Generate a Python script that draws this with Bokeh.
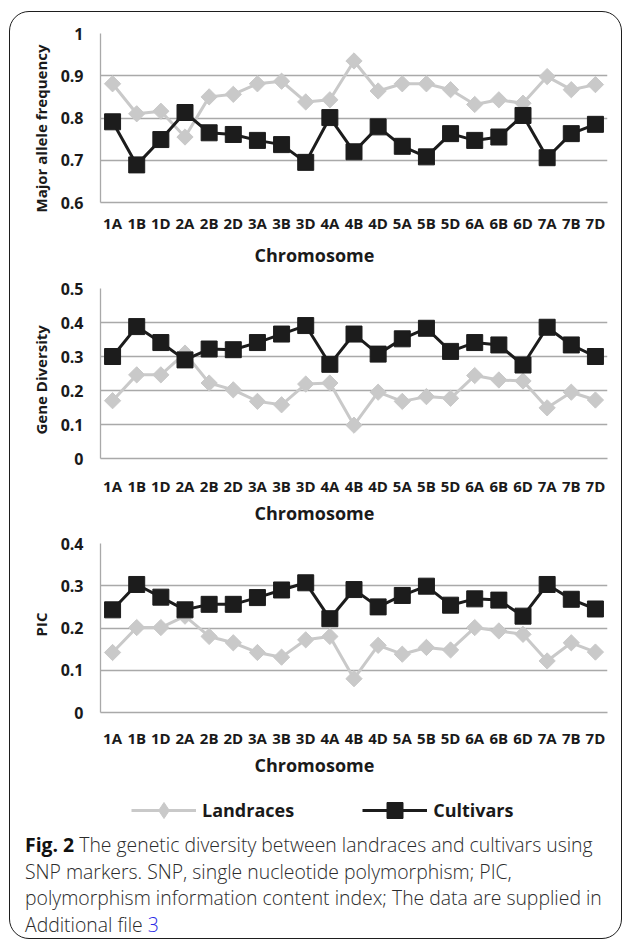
import math
from bokeh.plotting import figure
from bokeh.models import (FactorRange, Range1d, FixedTicker, NumeralTickFormatter,
                          Title, Legend, LegendItem, Div)
from bokeh.layouts import column
from bokeh.embed import file_html
from bokeh.resources import INLINE

chromosomes = ["1A", "1B", "1D", "2A", "2B", "2D", "3A", "3B", "3D", "4A", "4B",
               "4D", "5A", "5B", "5D", "6A", "6B", "6D", "7A", "7B", "7D"]

maf_landraces = [0.881, 0.810, 0.816, 0.755, 0.850, 0.856, 0.881, 0.887, 0.838, 0.843, 0.935,
                 0.864, 0.881, 0.881, 0.867, 0.832, 0.843, 0.835, 0.898, 0.867, 0.879]
maf_cultivars = [0.791, 0.689, 0.749, 0.813, 0.765, 0.761, 0.747, 0.737, 0.695, 0.801, 0.720,
                 0.779, 0.733, 0.708, 0.763, 0.747, 0.755, 0.806, 0.706, 0.763, 0.785]

gd_landraces = [0.170, 0.246, 0.246, 0.310, 0.222, 0.202, 0.168, 0.158, 0.219, 0.222, 0.098,
                0.195, 0.168, 0.182, 0.177, 0.244, 0.231, 0.228, 0.149, 0.195, 0.172]
gd_cultivars = [0.300, 0.388, 0.341, 0.290, 0.322, 0.320, 0.341, 0.366, 0.391, 0.277, 0.366,
                0.307, 0.352, 0.383, 0.315, 0.341, 0.334, 0.275, 0.386, 0.334, 0.300]

pic_landraces = [0.142, 0.201, 0.201, 0.228, 0.180, 0.165, 0.142, 0.131, 0.172, 0.180, 0.080,
                 0.159, 0.138, 0.154, 0.148, 0.201, 0.193, 0.185, 0.122, 0.165, 0.143]
pic_cultivars = [0.243, 0.303, 0.273, 0.243, 0.256, 0.256, 0.272, 0.290, 0.307, 0.222, 0.291,
                 0.250, 0.277, 0.299, 0.254, 0.269, 0.266, 0.228, 0.303, 0.268, 0.245]

maf_ticks = [0.6, 0.7, 0.8, 0.9, 1.0]
gd_ticks = [0.0, 0.1, 0.2, 0.3, 0.4, 0.5]
pic_ticks = [0.0, 0.1, 0.2, 0.3, 0.4]

series_names = ["Landraces", "Cultivars"]
x_title = "Chromosome"

FONT = "Open Sans"
GRID = "#a9a9a9"
LAND = "#c9c9c9"
CULT = "#1c1c1c"
TXT = "#1a1a1a"
W = 611


def add_series(p, land, cult, visible=True, land_marker="square", land_angle=math.pi / 4,
               land_size=11.5):
    l1 = p.line(chromosomes, land, line_color=LAND, line_width=3, visible=visible)
    m1 = p.scatter(chromosomes, land, marker=land_marker, angle=land_angle, size=land_size,
                   fill_color=LAND, line_color=LAND, visible=visible)
    l2 = p.line(chromosomes, cult, line_color=CULT, line_width=3, visible=visible)
    m2 = p.scatter(chromosomes, cult, marker="square", size=16,
                   fill_color=CULT, line_color=CULT, visible=visible)
    return l1, m1, l2, m2


def make_chart(ylabel, land, cult, ticks, height, top, bottom, tick_standoff, title_standoff,
               ylabel_offset):
    p = figure(width=W, height=height, x_range=FactorRange(factors=chromosomes, range_padding=0),
               y_range=Range1d(ticks[0], ticks[-1]), output_backend="svg",
               toolbar_location=None, title=None,
               min_border_left=90, min_border_right=14, min_border_top=top,
               min_border_bottom=bottom)
    p.outline_line_color = None
    p.background_fill_color = None
    p.border_fill_color = None
    p.xgrid.grid_line_color = None
    p.ygrid.grid_line_color = GRID
    p.ygrid.grid_line_width = 1.3
    p.yaxis.ticker = FixedTicker(ticks=ticks)
    p.yaxis.formatter = NumeralTickFormatter(format="0.[0]")
    for ax in (p.xaxis[0], p.yaxis[0]):
        ax.axis_line_color = GRID
        ax.axis_line_width = 1.3
        ax.major_tick_line_color = None
        ax.minor_tick_line_color = None
        ax.major_label_text_font = FONT
        ax.major_label_text_font_style = "bold"
        ax.major_label_text_color = TXT
    p.xaxis.major_label_text_font_size = "15px"
    p.xaxis.major_label_standoff = tick_standoff
    p.yaxis.major_label_text_font_size = "16px"
    p.yaxis.major_label_standoff = 11

    add_series(p, land, cult)

    yt = Title(text=ylabel, align="left", offset=ylabel_offset, vertical_align="bottom",
               text_font=FONT, text_font_size="15px", text_font_style="bold",
               text_color=TXT, standoff=14)
    p.add_layout(yt, "left")

    t = Title(text=x_title, align="left", offset=154, text_font=FONT,
              text_font_size="18px", text_font_style="bold", text_color=TXT,
              standoff=title_standoff)
    p.add_layout(t, "below")
    return p


f1 = make_chart("Major allele frequency", maf_landraces, maf_cultivars, maf_ticks,
                262, 21, 72, 4, 10, -10)
f2 = make_chart("Gene Diversity", gd_landraces, gd_cultivars, gd_ticks,
                256, 14, 72, 11, 0, 24)
f3 = make_chart("PIC", pic_landraces, pic_cultivars, pic_ticks,
                254, 13, 72, 9, 0, 76)

# legend strip (series renderers hidden; they only supply the legend samples)
fl = figure(width=W, height=48, x_range=FactorRange(factors=chromosomes, range_padding=0),
            y_range=Range1d(0, 1), output_backend="svg", toolbar_location=None, title=None,
            x_axis_location=None, y_axis_location=None, min_border=0)
fl.outline_line_color = None
fl.background_fill_color = None
fl.border_fill_color = None
fl.grid.grid_line_color = None
l1, m1, l2, m2 = add_series(fl, pic_landraces, pic_cultivars, visible=False,
                            land_marker="diamond", land_angle=0, land_size=16)
lg = Legend(items=[LegendItem(label=series_names[0], renderers=[l1, m1]),
                   LegendItem(label=series_names[1], renderers=[l2, m2])],
            orientation="horizontal", location=(31, 2), glyph_width=65,
            glyph_height=40, label_standoff=6, spacing=68, padding=0, margin=0,
            border_line_color=None, background_fill_alpha=0,
            label_text_font=FONT, label_text_font_size="18px",
            label_text_font_style="bold", label_text_color=TXT)
fl.add_layout(lg, "center")

caption_html = (
    "<div style=\"font-family:'Open Sans'; font-weight:300; font-size:19.4px; line-height:26.7px;"
    " color:#2b2b2b; padding-left:15px; padding-top:0px; white-space:nowrap;\">"
    "<b style=\"color:#111; font-weight:700;\">Fig. 2</b> The genetic diversity between landraces and cultivars using<br>"
    "SNP markers. SNP, single nucleotide polymorphism; PIC,<br>"
    "polymorphism information content index; The data are supplied in<br>"
    "Additional file <span style=\"color:#2a2ae6;\">3</span></div>"
)
cap = Div(text=caption_html, width=W, height=106, margin=0)

layout = column(f1, f2, f3, fl, cap, spacing=0,
                styles={"border": "1.6px solid #1e1e1e", "border-radius": "20px",
                        "margin-left": "9px", "margin-top": "11px"})

open("out.html", "w").write(file_html(layout, INLINE))
